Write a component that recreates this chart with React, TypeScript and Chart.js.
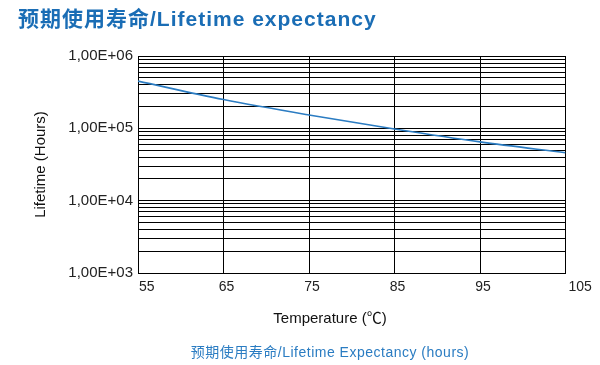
import React, { useEffect, useRef } from "react";
import { Chart, registerables } from "chart.js";

Chart.register(...registerables);

const temperatures = [55, 65, 75, 85, 95, 105];
const lifetimeHours = [450000, 250000, 153000, 98000, 65000, 46000];
const xTicks = [55, 65, 75, 85, 95, 105];
const yMajorTicks = [1e3, 1e4, 1e5, 1e6];
const yMajorLabels = ["1,00E+03", "1,00E+04", "1,00E+05", "1,00E+06"];

const titleText = "预期使用寿命/Lifetime expectancy";
const captionText = "预期使用寿命/Lifetime Expectancy (hours)";
const xTitle = "Temperature (℃)";
const yTitle = "Lifetime (Hours)";

const FONT = "'Liberation Sans', Arial, Helvetica, sans-serif";
const MIXED = "'Liberation Sans', Arial, 'Noto Sans CJK SC', sans-serif";

export default function App() {
  const ref = useRef<HTMLCanvasElement | null>(null);

  useEffect(() => {
    if (!ref.current) return;
    const chart = new Chart(ref.current, {
      type: "line",
      data: {
        datasets: [
          {
            data: temperatures.map((t, i) => ({ x: t, y: lifetimeHours[i] })),
            borderColor: "#2b7cc2",
            borderWidth: 1.6,
            pointRadius: 0,
            cubicInterpolationMode: "monotone",
            fill: false,
          },
        ],
      },
      options: {
        responsive: false,
        animation: false,
        events: [],
        layout: { padding: { left: 28, top: 56, right: 34.5, bottom: 34 } },
        plugins: { legend: { display: false }, tooltip: { enabled: false }, title: { display: false } },
        scales: {
          x: {
            type: "linear",
            min: 55,
            max: 105,
            afterBuildTicks: (scale: any) => {
              scale.ticks = xTicks.map((v) => ({ value: v }));
            },
            afterFit: (scale: any) => {
              scale.height = 58;
            },
            grid: { color: "#000", lineWidth: 1, drawTicks: false },
            border: { display: true, color: "#000", width: 1 },
            ticks: {
              padding: 6,
              labelOffset: 3,
              color: "#222",
              font: { family: FONT, size: 14 },
              autoSkip: false,
              maxRotation: 0,
              callback: (v: any, i: number) => {
                const s = String(v);
                if (i === 0) return "   " + s;
                if (i === xTicks.length - 1) return "      " + s;
                return s;
              },
            },
            title: { display: false },
          },
          y: {
            type: "logarithmic",
            min: 1e3,
            max: 1e6,
            afterBuildTicks: (scale: any) => {
              const ticks: any[] = [];
              for (let e = 3; e < 6; e++) {
                for (let s = 1; s <= 9; s++) ticks.push({ value: s * Math.pow(10, e) });
              }
              ticks.push({ value: 1e6 });
              scale.ticks = ticks;
            },
            afterFit: (scale: any) => {
              scale.width = 110;
            },
            grid: { color: "#000", lineWidth: 1, drawTicks: false },
            border: { display: true, color: "#000", width: 1 },
            ticks: {
              padding: 5,
              color: "#222",
              font: { family: FONT, size: 15 },
              autoSkip: false,
              callback: (v: any) => {
                const idx = yMajorTicks.findIndex((m) => Math.abs(m - Number(v)) < 1e-6 * m);
                return idx >= 0 ? yMajorLabels[idx] : "";
              },
            },
            title: {
              display: true,
              text: yTitle,
              color: "#111",
              font: { family: FONT, size: 15 },
              padding: { top: 4, bottom: 0 },
            },
          },
        },
      },
    } as any);
    return () => chart.destroy();
  }, []);

  return (
    <div style={{ position: "absolute", left: 0, top: 0, width: 600, height: 365, background: "#fff", overflow: "hidden" }}>
      <canvas ref={ref} width={600} height={365} style={{ position: "absolute", left: 0, top: 0, width: 600, height: 365 }} />
      <div
        style={{
          position: "absolute",
          left: 18,
          top: 5,
          fontFamily: MIXED,
          fontWeight: "bold",
          fontSize: 21,
          lineHeight: "28px",
          letterSpacing: 1,
          color: "#1a6db5",
          whiteSpace: "nowrap",
        }}
      >
        {titleText}
      </div>
      <div
        style={{
          position: "absolute",
          left: 0,
          width: 660,
          top: 309,
          textAlign: "center",
          fontFamily: MIXED,
          fontSize: 15,
          lineHeight: "18px",
          color: "#111",
          whiteSpace: "nowrap",
        }}
      >
        {xTitle}
      </div>
      <div
        style={{
          position: "absolute",
          left: 0,
          width: 660,
          top: 343,
          textAlign: "center",
          fontFamily: MIXED,
          fontSize: 14,
          lineHeight: "18px",
          letterSpacing: 0.5,
          color: "#2a7cc2",
          whiteSpace: "nowrap",
        }}
      >
        {captionText}
      </div>
    </div>
  );
}
